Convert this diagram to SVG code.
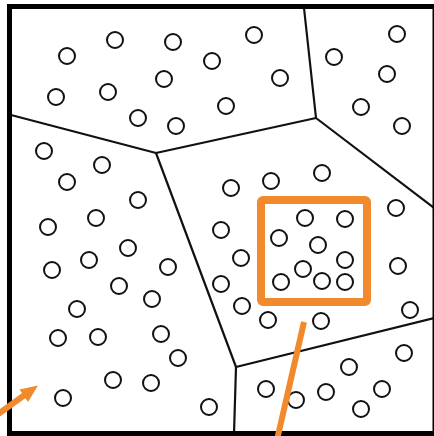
<svg xmlns="http://www.w3.org/2000/svg" width="434" height="436" viewBox="0 0 434 436">
<style>
.pt{fill:#fff;stroke:#111;stroke-width:2}
.edge{fill:none;stroke:#111;stroke-width:2.2;stroke-linecap:round;stroke-linejoin:round}
.frame{fill:none;stroke:#000;stroke-width:5}
.hl{fill:none;stroke:#f08a2c;stroke-width:8}
.or{fill:none;stroke:#f08a2c;stroke-width:6}
</style>
<rect width="434" height="436" fill="#fff"/>
<g id="connectors">
<path class="edge" d="M11,115 L156,153 L316,118 L304,8"/>
<path class="edge" d="M316,118 L434,208"/>
<path class="edge" d="M156,153 L236,367 L434,318"/>
<path class="edge" d="M236,367 L234,434"/>
</g>
<g id="points">
<circle class="pt" cx="115" cy="40" r="8"/>
<circle class="pt" cx="173" cy="42" r="8"/>
<circle class="pt" cx="67" cy="56" r="8"/>
<circle class="pt" cx="212" cy="61" r="8"/>
<circle class="pt" cx="164" cy="79" r="8"/>
<circle class="pt" cx="108" cy="92" r="8"/>
<circle class="pt" cx="56" cy="97" r="8"/>
<circle class="pt" cx="138" cy="118" r="8"/>
<circle class="pt" cx="176" cy="126" r="8"/>
<circle class="pt" cx="254" cy="35" r="8"/>
<circle class="pt" cx="280" cy="78" r="8"/>
<circle class="pt" cx="226" cy="106" r="8"/>
<circle class="pt" cx="397" cy="34" r="8"/>
<circle class="pt" cx="334" cy="57" r="8"/>
<circle class="pt" cx="387" cy="74" r="8"/>
<circle class="pt" cx="361" cy="107" r="8"/>
<circle class="pt" cx="402" cy="126" r="8"/>
<circle class="pt" cx="44" cy="151" r="8"/>
<circle class="pt" cx="102" cy="165" r="8"/>
<circle class="pt" cx="67" cy="182" r="8"/>
<circle class="pt" cx="138" cy="200" r="8"/>
<circle class="pt" cx="96" cy="218" r="8"/>
<circle class="pt" cx="48" cy="227" r="8"/>
<circle class="pt" cx="128" cy="248" r="8"/>
<circle class="pt" cx="89" cy="260" r="8"/>
<circle class="pt" cx="52" cy="270" r="8"/>
<circle class="pt" cx="168" cy="267" r="8"/>
<circle class="pt" cx="119" cy="286" r="8"/>
<circle class="pt" cx="152" cy="299" r="8"/>
<circle class="pt" cx="77" cy="309" r="8"/>
<circle class="pt" cx="58" cy="338" r="8"/>
<circle class="pt" cx="98" cy="337" r="8"/>
<circle class="pt" cx="161" cy="334" r="8"/>
<circle class="pt" cx="178" cy="358" r="8"/>
<circle class="pt" cx="113" cy="380" r="8"/>
<circle class="pt" cx="151" cy="383" r="8"/>
<circle class="pt" cx="63" cy="398" r="8"/>
<circle class="pt" cx="209" cy="407" r="8"/>
<circle class="pt" cx="231" cy="188" r="8"/>
<circle class="pt" cx="271" cy="181" r="8"/>
<circle class="pt" cx="322" cy="173" r="8"/>
<circle class="pt" cx="396" cy="208" r="8"/>
<circle class="pt" cx="221" cy="230" r="8"/>
<circle class="pt" cx="241" cy="258" r="8"/>
<circle class="pt" cx="221" cy="284" r="8"/>
<circle class="pt" cx="242" cy="306" r="8"/>
<circle class="pt" cx="268" cy="320" r="8"/>
<circle class="pt" cx="321" cy="321" r="8"/>
<circle class="pt" cx="398" cy="266" r="8"/>
<circle class="pt" cx="410" cy="310" r="8"/>
<circle class="pt" cx="305" cy="218" r="8"/>
<circle class="pt" cx="345" cy="219" r="8"/>
<circle class="pt" cx="279" cy="238" r="8"/>
<circle class="pt" cx="318" cy="245" r="8"/>
<circle class="pt" cx="345" cy="260" r="8"/>
<circle class="pt" cx="303" cy="269" r="8"/>
<circle class="pt" cx="281" cy="282" r="8"/>
<circle class="pt" cx="322" cy="281" r="8"/>
<circle class="pt" cx="345" cy="282" r="8"/>
<circle class="pt" cx="404" cy="353" r="8"/>
<circle class="pt" cx="349" cy="367" r="8"/>
<circle class="pt" cx="266" cy="389" r="8"/>
<circle class="pt" cx="326" cy="392" r="8"/>
<circle class="pt" cx="382" cy="389" r="8"/>
<circle class="pt" cx="296" cy="400" r="8"/>
<circle class="pt" cx="361" cy="409" r="8"/>
</g>
<rect class="frame" x="9.5" y="6.5" width="425.5" height="427"/>
<g id="highlight">
<rect class="hl" x="261" y="200" width="106" height="102" rx="2"/>
<line class="or" x1="304" y1="322" x2="277" y2="440"/>
<line class="or" x1="-3" y1="415" x2="26" y2="394" stroke-width="5"/>
<polygon points="38,385.5 19.5,389.5 28,402" fill="#f08a2c"/>
</g>
</svg>
